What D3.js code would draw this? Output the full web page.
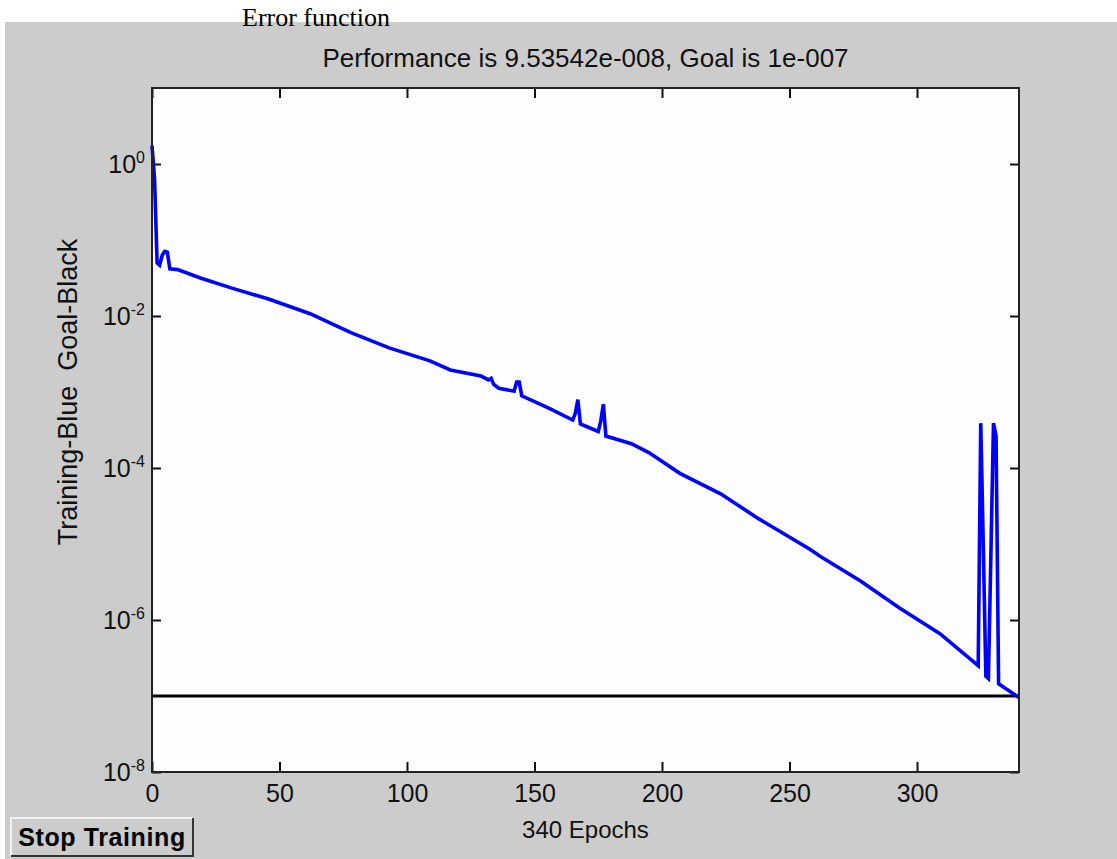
<!DOCTYPE html>
<html>
<head>
<meta charset="utf-8">
<script src="https://cdn.jsdelivr.net/npm/d3@7"></script>
<style>
  body { margin: 0; background: #fff; }
  svg { display: block; }
</style>
</head>
<body>
<svg id="chart" width="1117" height="859"></svg>
<script>
// Training record (epoch, performance)
const epochs = [0, 1, 2, 3, 4, 5, 6, 7, 10, 19, 31, 46, 62, 78, 93, 109, 117, 129, 132, 133, 134, 136,
    142, 143, 144, 145, 156, 165, 166, 167, 168, 175, 176, 177, 178, 188, 195, 207, 223, 238,
    258, 262, 278, 293, 309, 324, 325, 326, 327, 328, 329, 330, 331, 332, 340];
const logPerf = [0.24, -0.2, -1.3, -1.33, -1.2, -1.15, -1.16, -1.38, -1.39, -1.5, -1.63, -1.78, -1.97,
    -2.22, -2.42, -2.59, -2.71, -2.79, -2.84, -2.82, -2.9, -2.95,
    -2.99, -2.87, -2.87, -3.05, -3.22, -3.37, -3.28, -3.1, -3.42, -3.52, -3.38, -3.16, -3.58, -3.68,
    -3.8, -4.07, -4.34, -4.67, -5.07, -5.16, -5.49, -5.84, -6.18, -6.6, -3.41, -5.03, -6.74, -6.77,
    -5.1, -3.41, -3.58, -6.84, -7.02];
const goal = 1e-7;
const xTicks = [0, 50, 100, 150, 200, 250, 300];
const yTicks = [1e0, 1e-2, 1e-4, 1e-6, 1e-8];

const data = epochs.map((e, i) => ({ epoch: e, perf: Math.pow(10, logPerf[i]) }));

const svg = d3.select('#chart');
const margin = { top: 88, right: 98, bottom: 87, left: 152 };
const width = 1117 - margin.left - margin.right;
const height = 859 - margin.top - margin.bottom;
const font = '"Liberation Sans", Arial, sans-serif';

// grey figure background
svg.append('rect')
    .attr('x', 5).attr('y', 22)
    .attr('width', 1112).attr('height', 837)
    .attr('fill', '#cccccc');

svg.append('text')
    .attr('x', 242).attr('y', 26)
    .attr('font-family', '"Liberation Serif", "Times New Roman", serif')
    .attr('font-size', 26)
    .text('Error function');

const g = svg.append('g').attr('transform', `translate(${margin.left},${margin.top})`);

const x = d3.scaleLinear().domain([0, 340]).range([0, width]);
const y = d3.scaleLog().domain([1e-8, 1e1]).range([height, 0]);

g.append('rect')
    .attr('width', width).attr('height', height)
    .attr('fill', '#fefefe');

function styleAxis(sel) {
    sel.select('.domain').remove();
    sel.selectAll('.tick line').attr('stroke', '#111').attr('stroke-width', 2);
    sel.selectAll('.tick text').attr('fill', '#111').attr('font-family', font).attr('font-size', 25);
}

// bottom + top x axes, ticks pointing inwards
g.append('g')
    .attr('transform', `translate(0,${height})`)
    .call(d3.axisBottom(x).tickValues(xTicks).tickSizeInner(-10).tickSizeOuter(0).tickPadding(12))
    .call(styleAxis);

g.append('g')
    .call(d3.axisTop(x).tickValues(xTicks).tickSizeInner(-10).tickSizeOuter(0).tickFormat(''))
    .call(styleAxis);

// left + right log axes
const yAxis = g.append('g')
    .call(d3.axisLeft(y).tickValues(yTicks).tickSizeInner(-9).tickSizeOuter(0).tickPadding(7))
    .call(styleAxis);

yAxis.selectAll('.tick text').each(function (d) {
    const t = d3.select(this);
    t.text('');
    t.append('tspan').text('10');
    t.append('tspan')
        .attr('dy', '-0.6em')
        .attr('font-size', 16)
        .text(Math.round(Math.log10(d)));
});

g.append('g')
    .attr('transform', `translate(${width},0)`)
    .call(d3.axisRight(y).tickValues(yTicks).tickSizeInner(-9).tickSizeOuter(0).tickFormat(''))
    .call(styleAxis);

// goal line
g.append('line')
    .attr('x1', x(0)).attr('x2', x(340))
    .attr('y1', y(goal)).attr('y2', y(goal))
    .attr('stroke', '#000')
    .attr('stroke-width', 3);

// training curve
const line = d3.line()
    .x(d => x(d.epoch))
    .y(d => y(d.perf));

g.append('path')
    .datum(data)
    .attr('fill', 'none')
    .attr('stroke', '#0000ff')
    .attr('stroke-width', 3.6)
    .attr('stroke-linejoin', 'miter')
    .attr('d', line);

// box
g.append('rect')
    .attr('width', width).attr('height', height)
    .attr('fill', 'none')
    .attr('stroke', '#222')
    .attr('stroke-width', 2);

// titles
svg.append('text')
    .attr('x', margin.left + width / 2).attr('y', 67)
    .attr('text-anchor', 'middle')
    .attr('font-family', font).attr('font-size', 26)
    .attr('fill', '#111')
    .text('Performance is 9.53542e-008, Goal is 1e-007');

svg.append('text')
    .attr('x', margin.left + width / 2).attr('y', 838)
    .attr('text-anchor', 'middle')
    .attr('font-family', font).attr('font-size', 24)
    .attr('fill', '#111')
    .text('340 Epochs');

svg.append('text')
    .attr('transform', `translate(77,${margin.top + height / 2 - 38}) rotate(-90)`)
    .attr('text-anchor', 'middle')
    .attr('font-family', font).attr('font-size', 27)
    .attr('fill', '#111')
    .attr('xml:space', 'preserve')
    .text('Training-Blue  Goal-Black');

// Stop Training button
const btn = svg.append('g').attr('transform', 'translate(11,818)');
btn.append('rect').attr('width', 182).attr('height', 38).attr('fill', '#cccccc');
btn.append('path').attr('d', 'M0,38 V0 H182').attr('fill', 'none').attr('stroke', '#f2f2f2').attr('stroke-width', 2);
btn.append('path').attr('d', 'M0,38 H182 V0').attr('fill', 'none').attr('stroke', '#333').attr('stroke-width', 2);
btn.append('text')
    .attr('x', 91).attr('y', 28)
    .attr('text-anchor', 'middle')
    .attr('font-family', font).attr('font-size', 25)
    .attr('font-weight', 'bold')
    .attr('letter-spacing', 0.6)
    .attr('fill', '#000')
    .text('Stop Training');
</script>
</body>
</html>
